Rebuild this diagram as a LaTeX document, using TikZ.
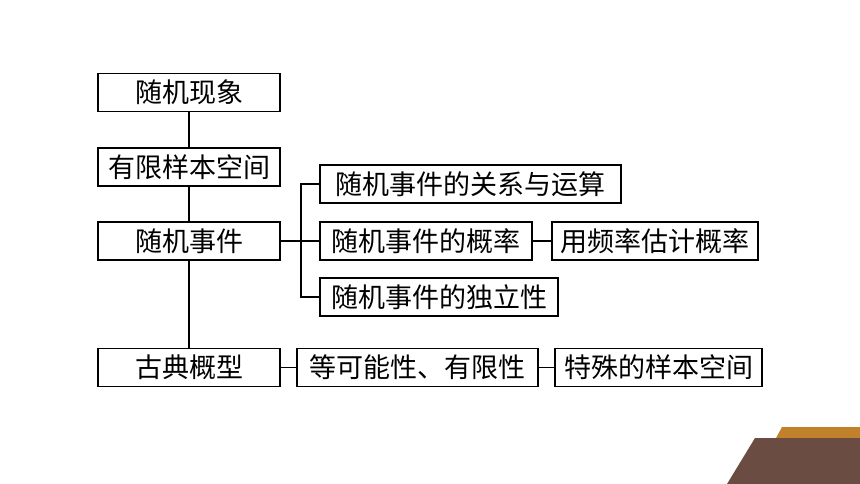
\documentclass[tikz,border=0pt]{standalone}
\usepackage{fontspec}
\newfontfamily\cjk{Noto Sans CJK SC}
\definecolor{deco gold}{HTML}{C0812A}
\definecolor{deco brown}{HTML}{6B4C42}
\tikzset{
  box/.style={draw, line width=1.8pt, inner sep=0pt, minimum height=38pt,
    font=\cjk\fontsize{27}{27}\selectfont},
  link/.style={line width=1.8pt}
}
\begin{document}
\begin{tikzpicture}[x=1pt, y=-1pt]
  \useasboundingbox (0,0) rectangle (860,484);

  % left column
  \node[box, minimum width=182pt] (xx) at (189,92.5) {随机现象};
  \node[box, minimum width=182pt] (yx) at (189,167) {有限样本空间};
  \node[box, minimum width=182pt] (sj) at (189,241) {随机事件};
  \node[box, minimum width=182pt] (gd) at (189,367.5) {古典概型};

  % events
  \node[box, minimum width=301pt] (gx) at (470.5,184) {随机事件的关系与运算};
  \node[box, minimum width=212pt] (gl) at (426,241) {随机事件的概率};
  \node[box, minimum width=238pt] (dl) at (439,297) {随机事件的独立性};
  \node[box, minimum width=206pt] (pl) at (655,241) {用频率估计概率};

  % classical model
  \node[box, minimum width=241pt] (dk) at (417.5,367.5) {等可能性、有限性};
  \node[box, minimum width=207pt] (ts) at (658.5,367.5) {特殊的样本空间};

  \coordinate (br) at (301,241);

  \draw[link] (xx.south) -- (yx.north);
  \draw[link] (yx.south) -- (sj.north);
  \draw[link] (sj.south) -- (gd.north);
  \draw[link] (sj.east) -- (gl.west);
  \draw[link] (gx.west) -| (br) |- (dl.west);
  \draw[link] (gl.east) -- (pl.west);
  \draw[link] (gd.east) -- (dk.west);
  \draw[link] (dk.east) -- (ts.west);

  % corner decoration
  \fill[deco gold] (782,427) -- (860,427) -- (860,440) -- (775,440) -- cycle;
  \fill[deco brown] (755,438) -- (860,438) -- (860,484) -- (727,484) -- cycle;
\end{tikzpicture}
\end{document}
